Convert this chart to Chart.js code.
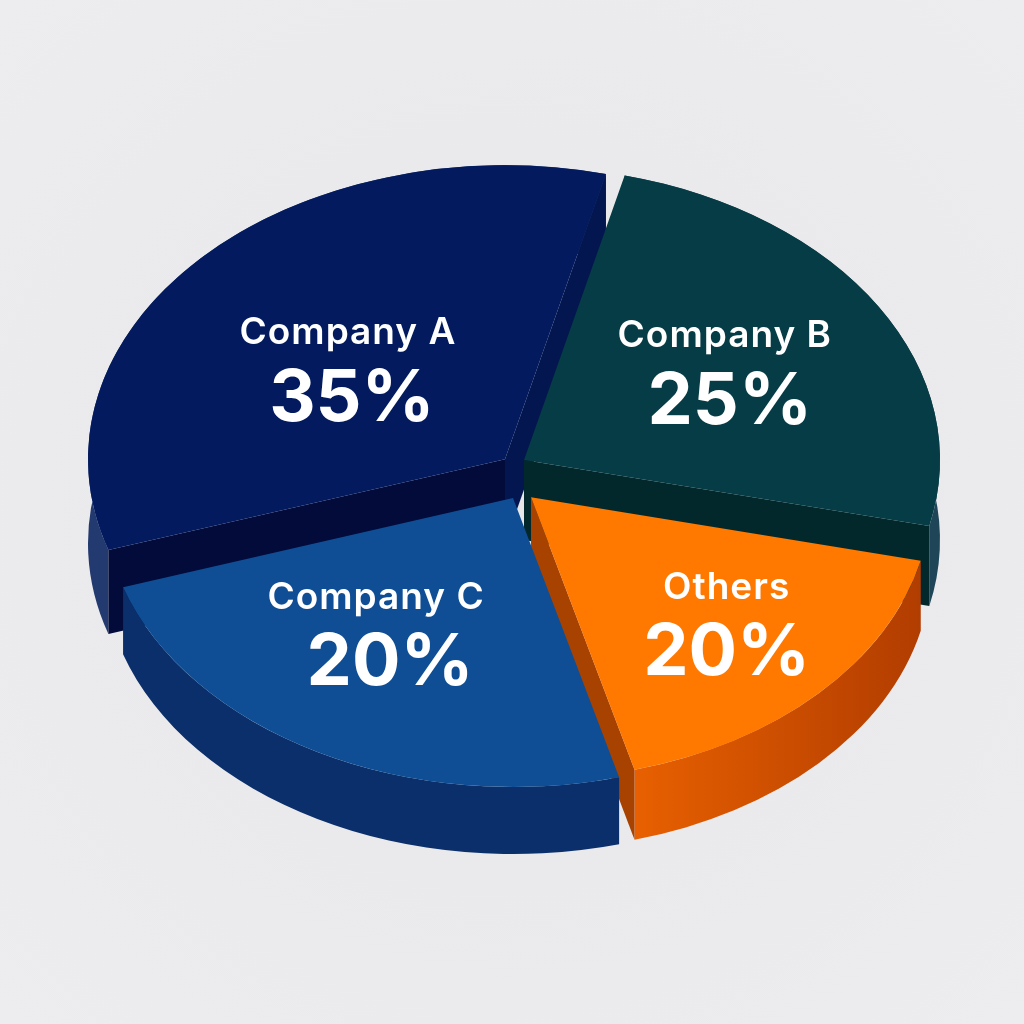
<!DOCTYPE html>
<html>
<head>
<meta charset="utf-8">
<style>
  html, body { margin: 0; padding: 0; background: radial-gradient(circle at 50% 50%, #e7e6e8, #edecee); }
  canvas { display: block; }
</style>
<script src="https://cdn.jsdelivr.net/npm/chart.js@4/dist/chart.umd.min.js"></script>
</head>
<body>
<canvas id="pie" width="1024" height="1024"></canvas>
<script>
// clockwise from the lower left edge of Company A
const categories = ['Company A', 'Company B', 'Others', 'Company C'];
// printed on the slices
const percentLabels = ['35%', '25%', '20%', '20%'];
// sweep of each slice in degrees as drawn in the picture (not the same as the printed shares)
const sweeps = [122, 89, 62, 87];

const topColors = ['#031b5e', '#053c45', '#ff7800', '#0f4e95'];
const outerColors = ['#233a70', '#1f4658', null, '#0a2f6a'];
const startFaceColors = ['#020b3a', null, null, null];
const endFaceColors = ['#03164f', '#03282c', '#a84200', null];

// slice placement: explode in chart space, radius, wall height on screen
const explode = [[-11, -28], [8, -27], [15, 26], [-3, 27]];
const radii = [417, 416, 400, 410];
const depths = [84, 80, 70, 67];
// label anchor along the middle of the slice (share of radius), then nudges
const labelReach = [0.515, 0.566, 0.68, 0.7];
const labelNudgeY = [11, -3, -9, -44];
const percentNudge = [4, 5, 0, 14];

const centerX = 516, centerY = 479, squash = 0.705;

const tiltPlugin = {
  id: 'tilt',
  afterDatasetsUpdate(chart) {
    const arcs = chart.getDatasetMeta(0).data;
    arcs.forEach((arc, i) => {
      arc.x += explode[i][0];
      arc.y += explode[i][1];
      arc.outerRadius = radii[i];
    });
  },
  beforeDatasetsDraw(chart) {
    const ctx = chart.ctx;
    ctx.save();
    ctx.translate(centerX, centerY);
    ctx.scale(1, squash);
    ctx.translate(-chart.width / 2, -chart.height / 2);
    // side walls go under all of the top faces
    chart.getDatasetMeta(0).data.forEach((arc, i) => drawWalls(ctx, arc, i));
  },
  afterDatasetsDraw(chart) {
    chart.ctx.restore();
    drawLabels(chart);
  }
};

function drawWalls(ctx, arc, i) {
  const { x, y, startAngle, endAngle, outerRadius: r } = arc;
  const d = depths[i] / squash;

  ctx.beginPath();
  ctx.arc(x, y, r, startAngle, endAngle);
  ctx.arc(x, y + d, r, endAngle, startAngle, true);
  ctx.closePath();
  if (outerColors[i]) {
    ctx.fillStyle = outerColors[i];
  } else {
    const g = ctx.createLinearGradient(630, 0, 925, 0);
    g.addColorStop(0, '#e86000');
    g.addColorStop(1, '#b03c00');
    ctx.fillStyle = g;
  }
  ctx.fill();

  // flat cut faces, only the ones turned towards the viewer
  const face = (angle, color, normal) => {
    if (!color || Math.sin(normal) <= 0) return;
    const px = x + Math.cos(angle) * r, py = y + Math.sin(angle) * r;
    ctx.beginPath();
    ctx.moveTo(x, y);
    ctx.lineTo(px, py);
    ctx.lineTo(px, py + d);
    ctx.lineTo(x, y + d);
    ctx.closePath();
    ctx.fillStyle = color;
    ctx.fill();
  };
  face(startAngle, startFaceColors[i], startAngle - Math.PI / 2);
  face(endAngle, endFaceColors[i], endAngle + Math.PI / 2);
}

function drawLabels(chart) {
  const ctx = chart.ctx;
  ctx.save();
  ctx.fillStyle = '#ffffff';
  ctx.textAlign = 'center';
  ctx.textBaseline = 'middle';
  chart.getDatasetMeta(0).data.forEach((arc, i) => {
    const mid = (arc.startAngle + arc.endAngle) / 2;
    const ax = centerX + (arc.x - chart.width / 2) + Math.cos(mid) * arc.outerRadius * labelReach[i];
    const ay = centerY + ((arc.y - chart.height / 2) + Math.sin(mid) * arc.outerRadius * labelReach[i]) * squash + labelNudgeY[i];
    ctx.font = '600 37px Inter';
    ctx.letterSpacing = '1px';
    ctx.fillText(categories[i], ax, ay - 34);
    ctx.font = '700 72px Inter';
    ctx.letterSpacing = '0px';
    ctx.fillText(percentLabels[i], ax + percentNudge[i], ay + 32);
  });
  ctx.restore();
}

new Chart(document.getElementById('pie'), {
  type: 'pie',
  data: {
    labels: categories,
    datasets: [{
      data: sweeps,
      backgroundColor: topColors,
      borderWidth: 0,
      clip: false
    }]
  },
  options: {
    responsive: false,
    animation: false,
    rotation: -108,
    radius: 412,
    layout: { padding: 0 },
    plugins: {
      legend: { display: false },
      tooltip: { enabled: false }
    }
  },
  plugins: [tiltPlugin]
});
</script>
</body>
</html>
